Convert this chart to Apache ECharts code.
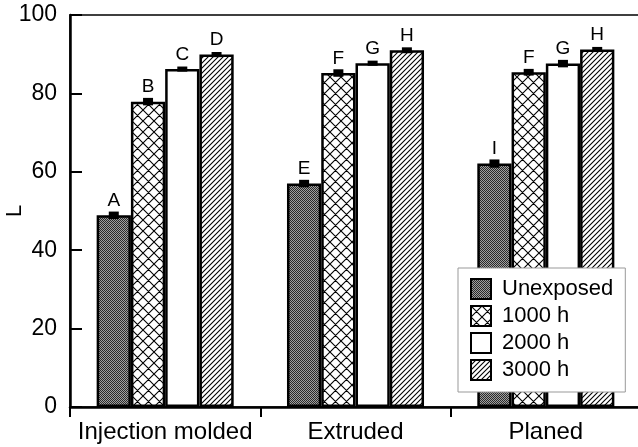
<!DOCTYPE html>
<html>
<head>
<meta charset="utf-8">
<script src="https://cdn.jsdelivr.net/npm/echarts@6/dist/echarts.min.js"></script>
<style>
  html, body { margin: 0; padding: 0; background: #fff; }
  #chart { width: 638px; height: 447px; }
</style>
</head>
<body>
<div id="chart"></div>
<script>
// data
var categories = ['Injection molded', 'Extruded', 'Planed'];
var seriesNames = ['Unexposed', '1000 h', '2000 h', '3000 h'];
var unexposed = [48.9, 57.0, 62.1];
var h1000 = [77.9, 85.2, 85.4];
var h2000 = [86.2, 87.7, 87.6];
var h3000 = [89.9, 91.0, 91.2];
var errUnexposed = [0.7, 0.7, 0.8];
var err1000 = [0.7, 0.7, 0.6];
var err2000 = [0.4, 0.4, 0.7];
var err3000 = [0.4, 0.5, 0.4];
var lettersUnexposed = ['A', 'E', 'I'];
var letters1000 = ['B', 'F', 'F'];
var letters2000 = ['C', 'G', 'G'];
var letters3000 = ['D', 'H', 'H'];
var yTicks = [0, 20, 40, 60, 80, 100];

var FONT = "'Liberation Sans', Arial, sans-serif";
var GAP = 0.28; // barCategoryGap

// fill patterns
function stipple() {
  var c = document.createElement('canvas');
  c.width = 2; c.height = 2;
  var g = c.getContext('2d');
  g.fillStyle = '#a0a0a0'; g.fillRect(0, 0, 2, 2);
  g.fillStyle = '#2a2a2a'; g.fillRect(0, 0, 1, 1); g.fillRect(1, 1, 1, 1);
  return c;
}
function hatch(s, both) {
  var c = document.createElement('canvas');
  c.width = s; c.height = s;
  var g = c.getContext('2d');
  g.fillStyle = '#fff'; g.fillRect(0, 0, s, s);
  g.strokeStyle = '#000'; g.lineWidth = 1.1;
  g.beginPath();
  g.moveTo(-1, s + 1); g.lineTo(s + 1, -1);
  g.moveTo(-1, 1); g.lineTo(1, -1);
  g.moveTo(s - 1, s + 1); g.lineTo(s + 1, s - 1);
  if (both) {
    g.moveTo(-1, -1); g.lineTo(s + 1, s + 1);
    g.moveTo(s - 1, -1); g.lineTo(s + 1, 1);
    g.moveTo(-1, s - 1); g.lineTo(1, s + 1);
  }
  g.stroke();
  return c;
}
var fills = [
  { image: stipple(), repeat: 'repeat' },
  { image: hatch(11, true), repeat: 'repeat' },
  '#ffffff',
  { image: hatch(5, false), repeat: 'repeat' }
];

var values = [unexposed, h1000, h2000, h3000];
var errs = [errUnexposed, err1000, err2000, err3000];
var letters = [lettersUnexposed, letters1000, letters2000, letters3000];

var series = seriesNames.map(function (name, i) {
  return {
    name: name,
    type: 'bar',
    barGap: 0,
    barCategoryGap: (GAP * 100) + '%',
    itemStyle: { color: fills[i], borderColor: '#000', borderWidth: 2.5 },
    label: {
      show: true,
      position: 'top',
      distance: 5,
      color: '#000',
      fontFamily: FONT,
      fontSize: 19,
      formatter: function (p) { return letters[i][p.dataIndex]; }
    },
    data: values[i]
  };
});

var errData = [];
values.forEach(function (arr, si) {
  arr.forEach(function (v, ci) { errData.push([ci, si, v, errs[si][ci]]); });
});

series.push({
  type: 'custom',
  z: 5,
  encode: { x: 0, y: 2 },
  renderItem: function (params, api) {
    var ci = api.value(0), si = api.value(1);
    var w = api.size([1, 0])[0];
    var bw = w * (1 - GAP) / 4;
    var off = (si - 1.5) * bw;
    var hi = api.coord([ci, api.value(2) + api.value(3)]);
    var lo = api.coord([ci, api.value(2) - api.value(3)]);
    return {
      type: 'rect',
      shape: { x: hi[0] + off - 5, y: hi[1] - 1, width: 10, height: lo[1] - hi[1] + 2 },
      style: { fill: '#000' }
    };
  },
  data: errData
});

var chart = echarts.init(document.getElementById('chart'));
chart.setOption({
  animation: false,
  backgroundColor: '#fff',
  grid: {
    left: 70, right: -3, top: 15, bottom: 40,
    containLabel: false,
    outerBoundsMode: 'none',
    show: true, borderColor: '#000', borderWidth: 1.5
  },
  legend: {
    data: seriesNames,
    orient: 'vertical',
    left: 458, top: 268,
    padding: [10, 12, 11, 12],
    itemWidth: 20, itemHeight: 20, itemGap: 5,
    icon: 'rect',
    backgroundColor: '#fff',
    borderColor: '#999', borderWidth: 1,
    z: 20,
    textStyle: { color: '#000', fontFamily: FONT, fontSize: 22, padding: [0, 0, 0, 6] }
  },
  xAxis: {
    type: 'category',
    data: categories,
    axisLine: { lineStyle: { color: '#000', width: 2.5 } },
    axisTick: { show: true, length: 10, lineStyle: { color: '#000', width: 2 } },
    axisLabel: { color: '#000', fontFamily: FONT, fontSize: 24, margin: 13, interval: 0 }
  },
  yAxis: {
    type: 'value',
    min: yTicks[0], max: yTicks[yTicks.length - 1], interval: 20,
    name: 'L',
    nameLocation: 'middle',
    nameGap: 44,
    nameRotate: 90,
    nameMoveOverlap: false,
    nameTextStyle: { color: '#000', fontFamily: FONT, fontSize: 22 },
    splitLine: { show: false },
    axisLine: { show: true, lineStyle: { color: '#000', width: 2.5 } },
    axisTick: { show: true, inside: true, length: 12, lineStyle: { color: '#000', width: 2 } },
    axisLabel: { color: '#000', fontFamily: FONT, fontSize: 23, margin: 13 }
  },
  series: series
});
</script>
</body>
</html>
